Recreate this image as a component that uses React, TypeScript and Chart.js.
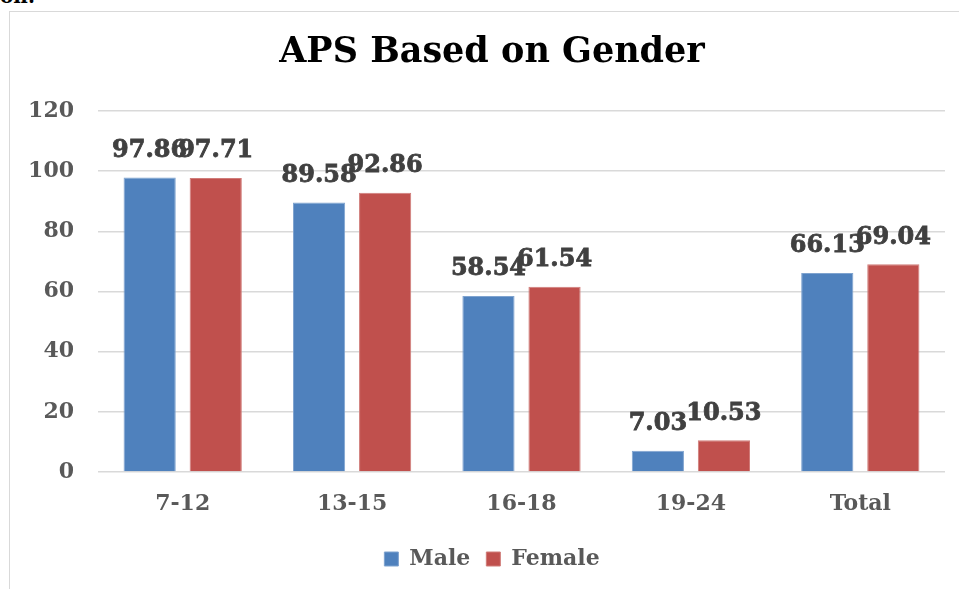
import React, { useEffect, useRef } from "react";
import { Chart, registerables } from "chart.js";

Chart.register(...registerables);

const categories = ["7-12", "13-15", "16-18", "19-24", "Total"];
const maleValues = [97.86, 89.58, 58.54, 7.03, 66.13];
const femaleValues = [97.71, 92.86, 61.54, 10.53, 69.04];
const maleLabels = ["97.86", "89.58", "58.54", "7.03", "66.13"];
const femaleLabels = ["97.71", "92.86", "61.54", "10.53", "69.04"];
const seriesNames = ["Male", "Female"];
const titleText = "APS Based on Gender";

const FONT = "'DejaVu Serif', serif";

const valueLabelPlugin = {
  id: "valueLabels",
  afterDatasetsDraw(chart: any) {
    const ctx = chart.ctx;
    const lists = [maleLabels, femaleLabels];
    ctx.save();
    ctx.font = `bold 24px ${FONT}`;
    ctx.fillStyle = "#404040";
    ctx.strokeStyle = "#404040";
    ctx.lineWidth = 0.8;
    ctx.textAlign = "center";
    ctx.textBaseline = "middle";
    chart.data.datasets.forEach((_ds: any, di: number) => {
      const meta = chart.getDatasetMeta(di);
      meta.data.forEach((bar: any, i: number) => {
        ctx.fillText(lists[di][i], bar.x, bar.y - 27);
        ctx.strokeText(lists[di][i], bar.x, bar.y - 27);
      });
    });
    ctx.restore();
  },
};

export default function App() {
  const ref = useRef<HTMLCanvasElement | null>(null);
  useEffect(() => {
    if (!ref.current) return;
    const chart = new Chart(ref.current, {
      type: "bar",
      data: {
        labels: categories,
        datasets: [
          {
            label: seriesNames[0],
            data: maleValues,
            backgroundColor: "#4F81BD",
            borderColor: "#7FA3CF",
            borderWidth: 1,
            categoryPercentage: 0.78,
            barPercentage: 0.79,
          },
          {
            label: seriesNames[1],
            data: femaleValues,
            backgroundColor: "#C0504D",
            borderColor: "#D07C79",
            borderWidth: 1,
            categoryPercentage: 0.78,
            barPercentage: 0.79,
          },
        ],
      },
      options: {
        responsive: false,
        animation: false,
        layout: { padding: { left: 0, right: 0, top: 0, bottom: 9 } },
        plugins: {
          title: {
            display: true,
            text: titleText,
            color: "#000000",
            font: { family: FONT, size: 35, weight: "bold", lineHeight: 1.2 },
            padding: { top: 32, bottom: 37 },
          },
          legend: {
            position: "bottom",
            labels: {
              color: "#595959",
              font: { family: FONT, size: 22, weight: "bold" },
              boxWidth: 14,
              boxHeight: 14,
              padding: 16,
            },
          },
          tooltip: { enabled: false },
        },
        scales: {
          x: {
            afterFit: (scale: any) => {
              scale.height = 60;
            },
            grid: { display: false },
            border: { display: false },
            ticks: {
              color: "#595959",
              font: { family: FONT, size: 22, weight: "bold" },
              padding: 11,
            },
          },
          y: {
            min: 0,
            max: 120,
            afterFit: (scale: any) => {
              scale.width = 98;
            },
            grid: { color: "#D9D9D9", lineWidth: 1.5, drawTicks: false },
            border: { display: false },
            ticks: {
              stepSize: 20,
              color: "#595959",
              font: { family: FONT, size: 22, weight: "bold" },
              padding: 24,
            },
          },
          yRight: {
            position: "right",
            min: 0,
            max: 120,
            afterFit: (scale: any) => {
              scale.width = 39;
            },
            grid: { display: false },
            border: { display: false },
            ticks: { display: false },
          },
        },
      },
      plugins: [valueLabelPlugin],
    });
    return () => chart.destroy();
  }, []);

  return (
    <div style={{ position: "fixed", left: 0, top: 0, width: 959, height: 589, overflow: "hidden", background: "#fff" }}>
      <div
        style={{
          position: "absolute",
          left: 0,
          top: -16,
          fontFamily: FONT,
          fontWeight: "bold",
          fontSize: 20,
          color: "#000",
        }}
      >
        on.
      </div>
      <div
        style={{
          position: "absolute",
          left: 9,
          top: 11,
          width: 1000,
          height: 700,
          border: "1.5px solid #D9D9D9",
          boxSizing: "border-box",
        }}
      />
      <canvas ref={ref} width={984} height={589} style={{ position: "absolute", left: 0, top: 0 }} />
    </div>
  );
}
